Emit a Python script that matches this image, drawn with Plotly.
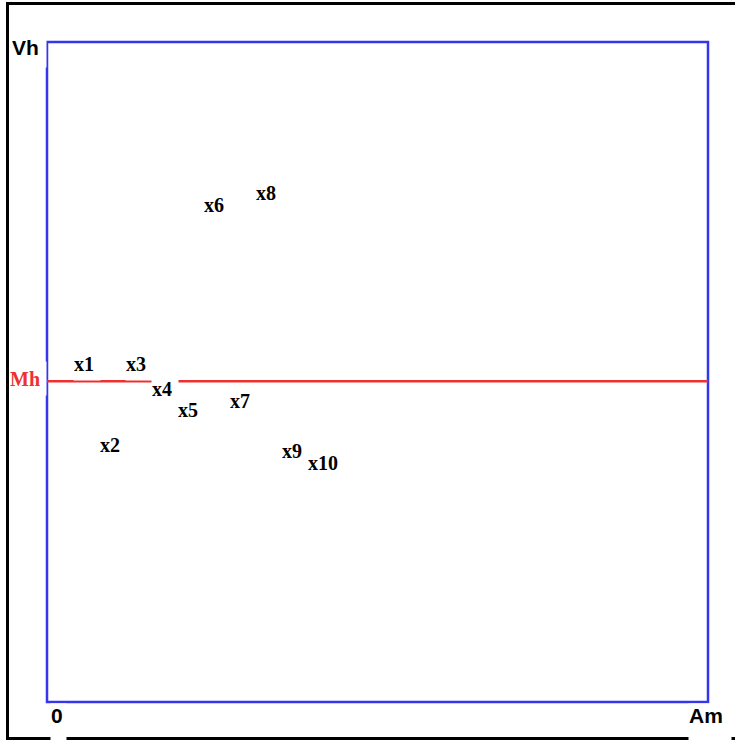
import plotly.graph_objects as go

# axis extent (x in label steps, y in percent of Vh)
am = 25.42
vh = 100
mh = 48.6

labels = ["x1", "x2", "x3", "x4", "x5", "x6", "x7", "x8", "x9", "x10"]
xs = [1, 2, 3, 4, 5, 6, 7, 8, 9, 10]
ys = [48.6, 36.3, 48.6, 44.8, 41.7, 72.7, 43.0, 74.5, 35.4, 33.6]

W, H = 735, 740
L, R, T, B = 47, 27, 42, 38
pw, ph = W - L - R, H - T - B

BLUE = "#3535ee"
RED = "#ee3030"
serif = dict(family="Liberation Serif, Times New Roman, serif", size=20, color="black", weight="bold")
sans = dict(family="Liberation Sans, Arial, sans-serif", size=21, color="black", weight="bold")


def px_x(p):
    return (p - L) / pw


def px_y(p):
    return (H - B - p) / ph


fig = go.Figure()
fig.add_trace(go.Scatter(x=xs, y=ys, mode="markers", marker=dict(size=1, opacity=0),
                         showlegend=False, hoverinfo="skip"))

shapes = [
    # outer frame
    dict(type="rect", xref="paper", yref="paper",
         x0=px_x(7.5), x1=px_x(737.5), y0=px_y(738.5), y1=px_y(3.5),
         line=dict(color="black", width=3)),
    # plot box
    dict(type="rect", xref="paper", yref="paper", x0=0, x1=1, y0=0, y1=1,
         line=dict(color=BLUE, width=2.5)),
    # Mh level
    dict(type="line", xref="paper", yref="y", x0=0, x1=1, y0=mh, y1=mh,
         line=dict(color=RED, width=2.5)),
]

annotations = []
for lab, x, y in zip(labels, xs, ys):
    annotations.append(dict(
        x=x, y=y, xref="x", yref="y", text=lab, showarrow=False,
        xanchor="left", yanchor="bottom", align="left", valign="middle",
        width=13 * len(lab), height=32, borderpad=0,
        bgcolor="white", font=serif))

annotations += [
    dict(x=0, y=vh, xref="x", yref="y", text="Vh", showarrow=False,
         xanchor="right", yanchor="middle", align="left", width=34, height=40,
         borderpad=0, yshift=-5, bgcolor="white", font=sans),
    dict(x=0, y=mh, xref="x", yref="y", text="Mh", showarrow=False,
         xanchor="right", yanchor="middle", align="left", width=36, height=33,
         borderpad=0, yshift=3, bgcolor="white", font=dict(serif, color=RED)),
    dict(x=0, y=0, xref="x", yref="y", text="0", showarrow=False,
         xanchor="left", yanchor="top", align="left", valign="top", width=15, height=36,
         borderpad=0, xshift=3, yshift=-1, bgcolor="white", font=sans),
    dict(x=am, y=0, xref="x", yref="y", text="Am", showarrow=False,
         xanchor="center", yanchor="top", align="left", valign="top", width=42, height=36,
         borderpad=0, xshift=2, yshift=-1, bgcolor="white", font=sans),
]

fig.update_layout(
    width=W, height=H,
    margin=dict(l=L, r=R, t=T, b=B),
    paper_bgcolor="white", plot_bgcolor="white",
    hovermode=False,
    shapes=shapes,
    annotations=annotations,
    xaxis=dict(range=[0, am], visible=False, fixedrange=True),
    yaxis=dict(range=[0, vh], visible=False, fixedrange=True),
)

# page body margin off, so the figure sits at the window origin
fig.write_html("out.html", config=dict(displayModeBar=False),
               post_script="document.body.style.margin='0';")
